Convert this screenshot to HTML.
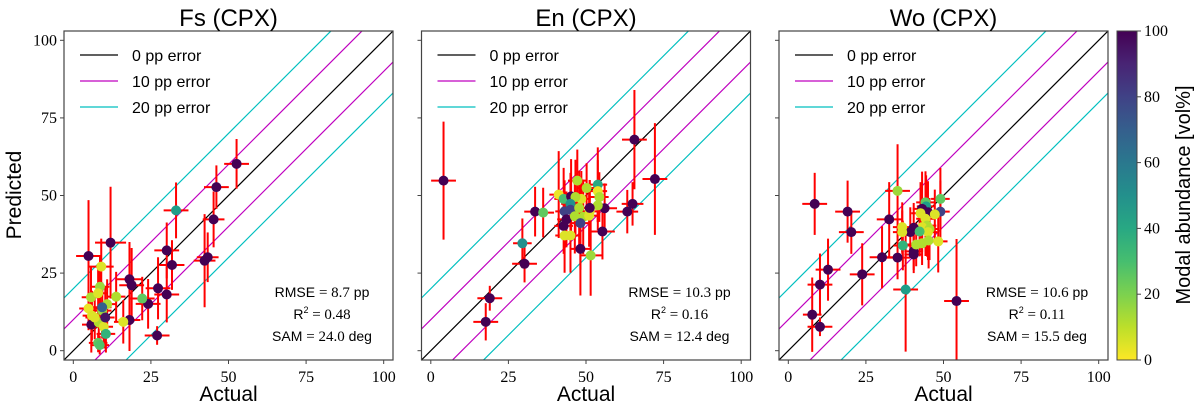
<!DOCTYPE html>
<html><head><meta charset="utf-8"><style>
body{margin:0;background:#fff}
svg{display:block}
.sans{font-family:"Liberation Sans","DejaVu Sans",sans-serif}
.serif{font-family:"Liberation Serif","DejaVu Serif",serif}
</style></head><body>
<svg id="fig" width="1200" height="409" viewBox="0 0 1200 409" xmlns="http://www.w3.org/2000/svg"></svg>
<script>
// ---- data ----
const panelTitles = ["Fs (CPX)", "En (CPX)", "Wo (CPX)"];
const statsRMSE = ["8.7", "10.3", "10.6"];
const statsR2 = ["0.48", "0.16", "0.11"];
const statsSAM = ["24.0", "12.4", "15.5"];
const axisTicks = [0, 25, 50, 75, 100];
const cbarTicks = [0, 20, 40, 60, 80, 100];
const errorLevels = [0, 10, 20];

const fsActual = [52.6,46.1,45.2,43.3,42.3,33.1,30.1,31.8,27.3,30.1,27,24.1,22.2,18.1,18.8,18.1,16.1,12,4.9,9,5.7,8.6,8,13.8,4.9,5.8,6,8.2,9.8,10.5,8,8.5,10.9,9.3,10.3,6.9,9.3];
const fsPred = [60.2,52.7,42.3,30.1,29,45.2,32.3,27.6,20.1,18.1,4.9,15.1,16.8,23,21.1,9.9,9.3,34.8,30.5,27.1,17.2,20.6,18.5,17.4,13.6,8.4,11.3,9.1,7.7,5.4,2.5,1.8,15,12.9,10.7,10.7,14];
const fsXerr = [4,4,3.5,3.5,3.5,4,4,4,4,4,4,4,4,4,4,3.5,3,5,4,4,3,3,3,3,3,3,3,3,3,3,3,3,3,3,3,3,3];
const fsYerr = [8,7,9,8,15,9,9,8,10,9,3,8,7,12,12,10,7,18,18,9,10,10,8,8,7,9,8,7,7,6,3,3,8,9,10,7,8];
const fsModal = [100,100,100,100,100,45,100,100,100,100,100,100,25,100,100,100,5,100,100,5,12,15,5,12,3,100,5,12,5,35,25,28,12,15,95,5,70];

const enActual = [4.1,65.6,72.2,65,63.3,55.3,56,48.2,51.5,33.6,36.2,29.5,30.2,19,17.7,41.2,42.8,45.2,47.2,50.2,53.8,53.8,54.3,53.8,48.5,46.6,45,43.1,45,43.7,42.8,47.8,46.4,49.1,48.2,51.2,51,51.2,43.1,45];
const enPred = [54.8,68,55.3,47.3,44.8,38.4,45.9,32.8,30.7,44.8,44.5,34.6,28,16.9,9.3,50.3,48.9,49.7,54.8,52.4,53.5,51.4,49.5,46.8,48.9,49.5,47.3,44.9,45.4,42.3,40.2,46,43.3,43.1,41.1,44.9,43.5,46,37.1,37.1];
const enXerr = [4,4,4,3.5,3.5,4,4,3.5,3.5,3.5,3.5,3,4,4,4,3,3,3,3,3,3,3,3,3,3,3,3,3,3,3,3,3,3,3,3,3,3,3,3,3];
const enYerr = [19,16,18,7,7,9,8,15,13,8,8,8,6,4,6,14,10,12,10,8,12,10,8,8,9,12,10,10,10,9,9,12,12,12,15,10,10,9,12,12];
const enModal = [100,100,100,100,100,100,100,100,15,100,25,50,100,100,100,3,30,100,12,12,40,3,12,12,5,12,50,80,80,100,100,12,12,12,80,5,5,100,5,5];

const woActual = [8.5,19.1,20.3,32.5,35.2,12.8,10.2,7.7,10.2,23.8,30.2,35.2,37.8,54.2,49,49,44.2,44.4,43.1,45,42.6,47.2,44.2,44.7,43.1,45.5,45,40.4,39.3,36.7,36.7,42.3,36.9,40.4,40.4,41.2,43.1,45.2,48.3];
const woPred = [47.3,44.8,38.2,42.3,51.5,26.1,21.3,11.6,7.7,24.6,30.1,30,19.7,16,48.9,44.8,47.8,46.5,45.7,44.6,44.3,43.9,42.5,40.3,39.8,39.2,38.2,39.6,38.2,39.8,38.2,38.4,33.9,32,31,34.2,34.6,35.5,35.2];
const woXerr = [4,4,4,4,4,4,4,3,4,4,4,4,4,4,3,3,3,3,3,3,3,3,3,3,3,3,3,3,3,3,3,3,3,3,3,3,3,3,3];
const woYerr = [10,10,7,12,15,10,10,12,3,10,10,7,20,20,10,10,10,10,12,10,10,8,12,10,8,10,9,8,8,8,7,8,8,6,6,7,7,9,10];
const woModal = [100,100,100,100,15,100,100,100,100,100,100,100,45,100,25,80,25,45,100,100,5,5,5,12,5,12,5,100,100,5,5,30,35,100,100,12,12,12,5];

const panelData = [
  [fsActual, fsPred, fsXerr, fsYerr, fsModal],
  [enActual, enPred, enXerr, enYerr, enModal],
  [woActual, woPred, woXerr, woYerr, woModal]
];

// ---- layout ----
const NS = "http://www.w3.org/2000/svg";
const svg = document.getElementById('fig');
const panelLeft = [64, 421.5, 779];
const panelW = 329, top0 = 31, bot0 = 360;
const lim0 = -3, lim1 = 103;

function mk(tag, attrs, parent){ const e=document.createElementNS(NS,tag); for(const k in attrs) e.setAttribute(k,attrs[k]); (parent||svg).appendChild(e); return e; }

const vir = [[253,231,37],[181,222,43],[110,206,88],[53,183,121],[31,158,137],[38,130,142],[49,104,142],[62,73,137],[72,40,120],[68,1,84]];
function viridisRev(v){ // 0 -> yellow, 100 -> dark purple
  const t=Math.max(0,Math.min(1,v/100))*(vir.length-1); const i=Math.min(vir.length-2,Math.floor(t)); const f=t-i;
  const c=vir[i].map((a,j)=>Math.round(a+(vir[i+1][j]-a)*f)); return `rgb(${c[0]},${c[1]},${c[2]})`;
}

const defs = mk('defs',{});
panelLeft.forEach((L,p)=>{
  const sx = v => L + (v-lim0)/(lim1-lim0)*panelW;
  const sy = v => bot0 - (v-lim0)/(lim1-lim0)*(bot0-top0);
  const g = mk('g',{});
  
  
  const cp = mk('clipPath',{id:'clip'+p},defs);
  mk('rect',{x:L,y:top0,width:panelW,height:bot0-top0},cp);
  const plot = mk('g',{'clip-path':'url(#clip'+p+')'},g);
  // error lines
  const colors = {0:'#000000',10:'#bf00bf',20:'#00bfbf'};
  errorLevels.forEach(e=>{
    [e,-e].filter((v,i)=>e!==0||i===0).forEach(off=>{
      const ln = mk('line',{x1:sx(lim0),y1:sy(lim0+off),x2:sx(lim1),y2:sy(lim1+off),stroke:colors[e],'stroke-width':1.2},plot);
      
      
    });
  });
  const [ax,pr,xe,ye,md] = panelData[p];
  ax.forEach((a,i)=>{
    const eb = mk('g',{stroke:'#ff0000','stroke-width':2},plot);
    
    
    mk('line',{x1:sx(a-xe[i]),x2:sx(a+xe[i]),y1:sy(pr[i]),y2:sy(pr[i])},eb);
    mk('line',{x1:sx(a),x2:sx(a),y1:sy(pr[i]-ye[i]),y2:sy(pr[i]+ye[i])},eb);
  });
  ax.forEach((a,i)=>{
    const c = mk('circle',{cx:sx(a),cy:sy(pr[i]),r:5,fill:viridisRev(md[i])},plot);
    
    
  });
  // frame
  const fr = mk('rect',{x:L,y:top0,width:panelW,height:bot0-top0,fill:'none',stroke:'#444','stroke-width':1.2},g);
  
  
  // ticks
  axisTicks.forEach(t=>{
    mk('line',{x1:sx(t),x2:sx(t),y1:bot0,y2:bot0+4,stroke:'#444'},g);
    const xl = mk('text',{x:sx(t),y:bot0+22,'text-anchor':'middle','font-size':16,class:'serif'},g);
    xl.textContent=t;
    
    
    mk('line',{x1:L-4,x2:L,y1:sy(t),y2:sy(t),stroke:'#444'},g);
    if(p===0){
      const yl = mk('text',{x:L-7,y:sy(t)+5,'text-anchor':'end','font-size':16,class:'serif'},g);
      yl.textContent=t;
      
      
    }
  });
  // title
  const ti = mk('text',{x:L+panelW/2,y:26,'text-anchor':'middle','font-size':24,class:'sans'},g);
  ti.textContent = panelTitles[p];
  
  
  const xa = mk('text',{x:L+panelW/2,y:401,'text-anchor':'middle','font-size':21,class:'sans'},g);
  xa.textContent='Actual';
  
  
  // legend
  const lg = mk('g',{},g);
  
  
  errorLevels.forEach((e,k)=>{
    const yy = 55 + k*26;
    mk('line',{x1:L+16,x2:L+54,y1:yy,y2:yy,stroke:colors[e],'stroke-width':1.2},lg);
    const lt = mk('text',{x:L+68,y:yy+6,'font-size':16,class:'sans'},lg);
    lt.textContent = e+' pp error';
    
    
  });
  // stats
  const cx = L+258;
  const s1 = mk('text',{x:cx,y:297,'text-anchor':'middle','font-size':14,class:'sans'},g);
  s1.innerHTML = 'RMSE <tspan class="serif" font-size="15">= '+statsRMSE[p]+'</tspan> pp';
  
  
  const s2 = mk('text',{x:cx,y:319,'text-anchor':'middle','font-size':14,class:'sans'},g);
  s2.innerHTML = 'R<tspan font-size="9" dy="-6">2</tspan><tspan class="serif" font-size="15" dy="6"> = '+statsR2[p]+'</tspan>';
  
  
  const s3 = mk('text',{x:cx,y:341,'text-anchor':'middle','font-size':14,class:'sans'},g);
  s3.innerHTML = 'SAM <tspan class="serif" font-size="15">= '+statsSAM[p]+'</tspan> deg';
  
  
});
// y axis title
const yt = mk('text',{x:0,y:0,'text-anchor':'middle','font-size':21,class:'sans',transform:'translate(21,195) rotate(-90)'});
yt.textContent='Predicted';


// colorbar
const cbL=1117, cbW=20, cbT=31, cbB=360;
const lgr = mk('linearGradient',{id:'cbg',x1:0,y1:1,x2:0,y2:0},defs);
for(let i=0;i<=10;i++) mk('stop',{offset:(i/10),'stop-color':viridisRev(i*10)},lgr);
const cb = mk('rect',{x:cbL,y:cbT,width:cbW,height:cbB-cbT,fill:'url(#cbg)',stroke:'#444','stroke-width':1});


cbarTicks.forEach(t=>{
  const y = cbB - t/100*(cbB-cbT);
  mk('line',{x1:cbL+cbW,x2:cbL+cbW+4,y1:y,y2:y,stroke:'#444'});
  const tl = mk('text',{x:cbL+cbW+7,y:y+5,'font-size':16,class:'serif'});
  tl.textContent=t;
  
  
});
const cl = mk('text',{x:0,y:0,'text-anchor':'middle','font-size':20,class:'sans',transform:'translate(1190,195) rotate(-90)'});
cl.textContent='Modal abundance [vol%]';


</script>
</body></html>
